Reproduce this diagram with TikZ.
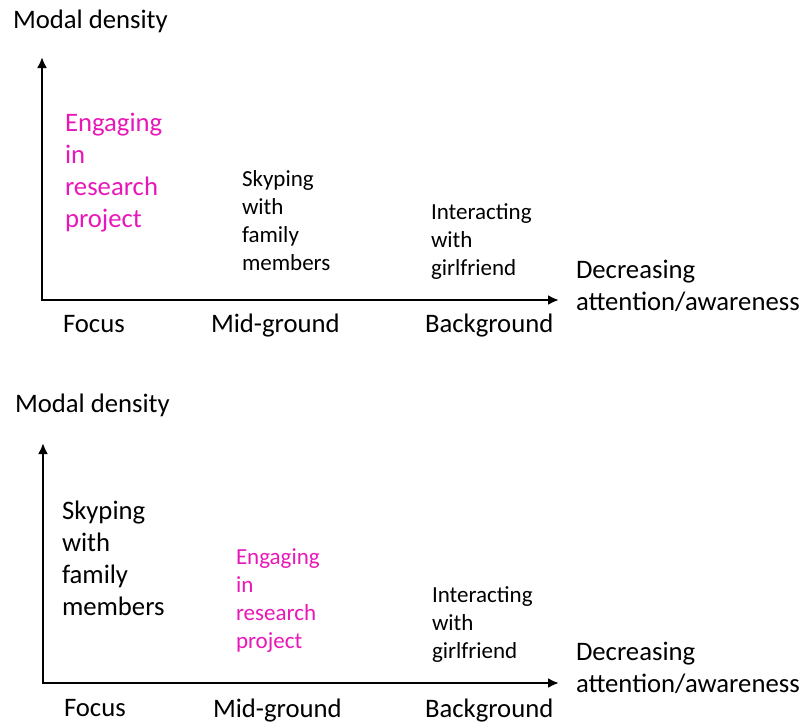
\documentclass[tikz,border=0pt]{standalone}
\usepackage{fontspec}
\setmainfont{Carlito}
\usepackage{tikz}
\usetikzlibrary{arrows.meta,positioning}
\definecolor{engage}{RGB}{232,24,184}

\begin{document}
\begin{tikzpicture}[x=1pt,y=-1pt,>={Latex[length=11pt,width=10pt]},semithick]
\tikzstyle{every node}=[inner sep=0pt,outer sep=0pt,align=left]
\tikzstyle{big}=[font=\fontsize{26.7}{31.7}\selectfont,anchor=base west]
\tikzstyle{small}=[font=\fontsize{23}{27.8}\selectfont,anchor=base west]
\tikzstyle{axis}=[<->,line width=2.8pt]
\useasboundingbox (0,0) rectangle (805,724);

% upper panel
\coordinate (yA) at (42,57);
\coordinate (oA) at (42,300);
\coordinate (xA) at (559,300);
\draw[axis] (yA) -- (oA) -- (xA);
\node [big] (modA) at (13,28) {Modal density};
\node [big,text=engage] (engA) at (65,227) {Engaging\\in\\research\\project};
\node [small] (skyA) at (242,270) {Skyping\\with\\family\\members};
\node [small] (girlA) at (431,275) {Interacting\\with\\girlfriend};
\node [big] (decA) at (576,310) {Decreasing\\attention/awareness};
\node [big] (focA) at (63,332) {Focus};
\node [big] (midA) at (211,332) {Mid-ground};
\node [big] (bgA) at (425,332) {Background};

% lower panel
\coordinate (yB) at (43,443);
\coordinate (oB) at (43,683);
\coordinate (xB) at (559,683);
\draw[axis] (yB) -- (oB) -- (xB);
\node [big] (modB) at (15,412) {Modal density};
\node [big] (skyB) at (62,615) {Skyping\\with\\family\\members};
\node [small,text=engage] (engB) at (236,648) {Engaging\\in\\research\\project};
\node [small] (girlB) at (432,658) {Interacting\\with\\girlfriend};
\node [big] (decB) at (576,692) {Decreasing\\attention/awareness};
\node [big] (focB) at (64,716) {Focus};
\node [big] (midB) at (213,717) {Mid-ground};
\node [big] (bgB) at (425,717) {Background};

\end{tikzpicture}
\end{document}
